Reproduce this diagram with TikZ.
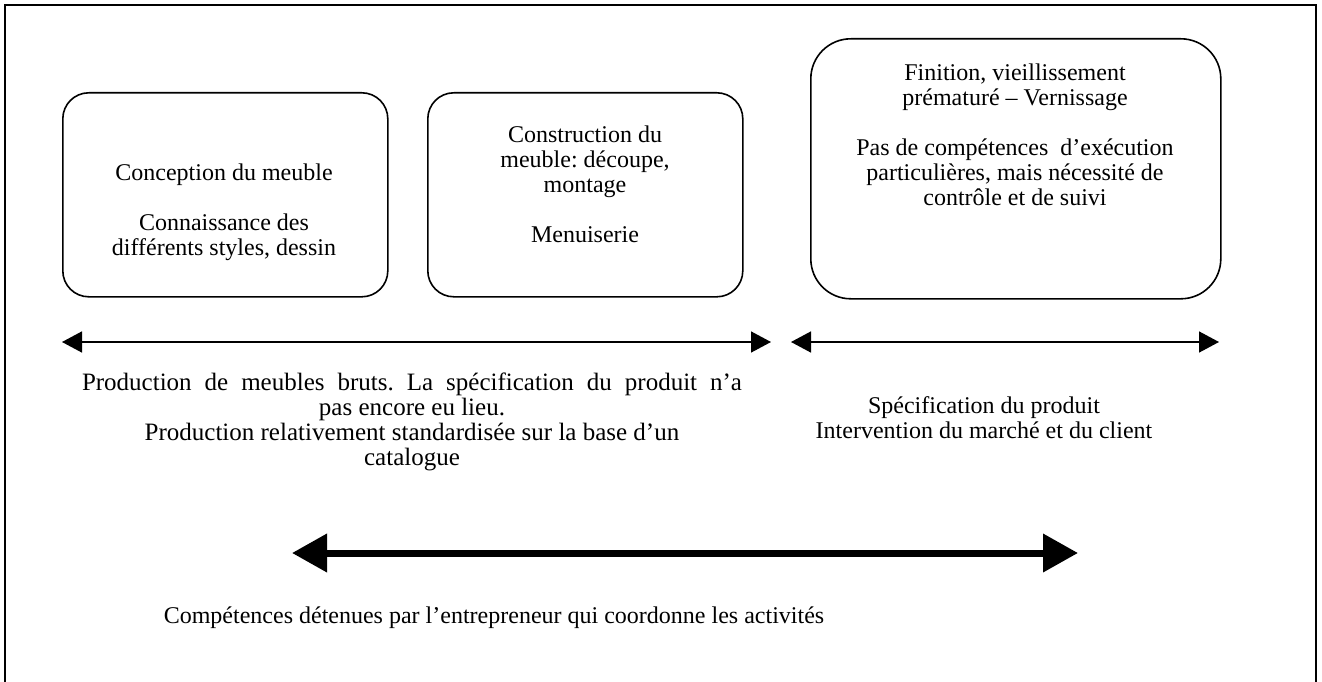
\documentclass[tikz,border=0pt]{standalone}
\usepackage{fontspec}
\setmainfont{Liberation Serif}
\usetikzlibrary{arrows.meta}
\frenchspacing
\begin{document}
\begin{tikzpicture}[x=1pt,y=-1pt,
  txt/.style={align=center,anchor=base,inner sep=0pt,font=\fontsize{24}{25}\selectfont},
  box/.style={draw,line width=1.6pt,rounded corners=26pt,anchor=north west,inner sep=0pt},
  thin/.style={line width=1.5pt,{Triangle[length=20pt,width=21pt]}-{Triangle[length=20pt,width=21pt]}},
  thick/.style={line width=7pt,{Triangle[length=35pt,width=37pt]}-{Triangle[length=35pt,width=37pt]}}]
\useasboundingbox (0,0) rectangle (1322,682);
\clip (0,0) rectangle (1322,682);
\draw[line width=2.4pt] (5,5) rectangle (1316,720);
% boxes
\node[box,minimum width=325pt,minimum height=204pt] (b1) at (62,92) {};
\node[box,minimum width=315pt,minimum height=204pt] (b2) at (427,92) {};
\node[box,rounded corners=40pt,minimum width=410pt,minimum height=260pt] (b3) at (810,38) {};
% box texts (anchor = baseline of last line)
\node[txt] (t1) at (224,255) {Conception du meuble\\[25pt]Connaissance des\\différents styles, dessin};
\node[txt] (t2) at (585,242) {Construction du\\meuble: découpe,\\montage\\[25pt]Menuiserie};
\node[txt] (t3) at (1015,205) {Finition, vieillissement\\prématuré – Vernissage\\[25pt]Pas de compétences\ \ d’exécution\\particulières, mais nécessité de\\contrôle et de suivi};
% arrows
\coordinate (a1l) at (62,342);
\coordinate (a1r) at (771,342);
\coordinate (a2l) at (791,342);
\coordinate (a2r) at (1219,342);
\coordinate (a3l) at (292,553);
\coordinate (a3r) at (1078,553);
\draw[thin] (a1l) -- (a1r);
\draw[thin] (a2l) -- (a2r);
\draw[thick] (a3l) -- (a3r);
% lower texts
\node[txt,font=\fontsize{25}{25}\selectfont] (t4) at (412,465) {\makebox[660pt][s]{Production de meubles bruts. La spécification du produit n’a}\\pas encore eu lieu.\\Production relativement standardisée sur la base d’un\\catalogue};
\node[txt] (t5) at (984,438) {Spécification du produit\\Intervention du marché et du client};
\node[txt] (t6) at (494,623) {Compétences détenues par l’entrepreneur qui coordonne les activités};
\end{tikzpicture}
\end{document}
